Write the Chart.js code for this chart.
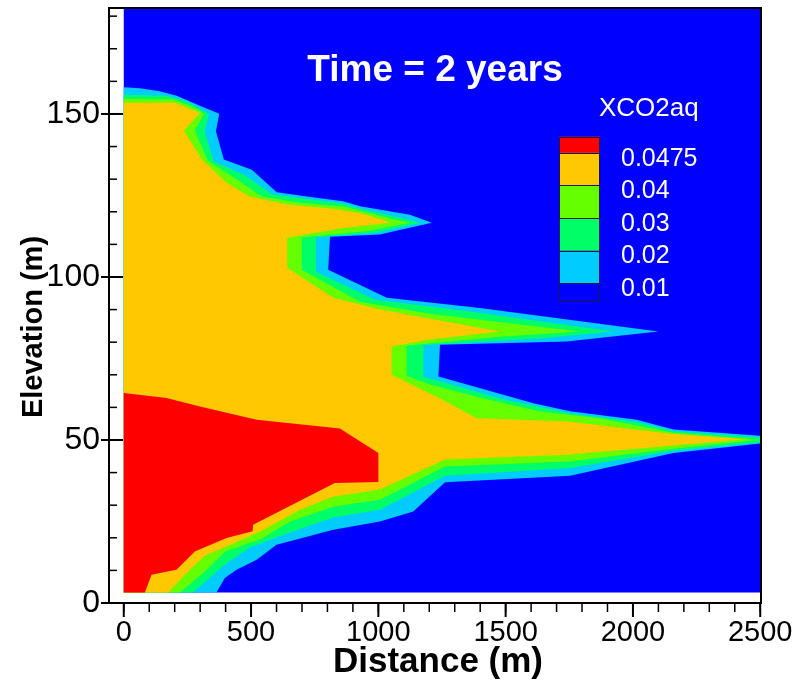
<!DOCTYPE html>
<html>
<head>
<meta charset="utf-8">
<script src="https://cdn.jsdelivr.net/npm/chart.js@4.4.1/dist/chart.umd.min.js"></script>
<style>
  html, body { margin: 0; padding: 0; background: #ffffff; overflow: hidden; }
  canvas { display: block; }
</style>
</head>
<body>
<canvas id="plume" width="799" height="686"></canvas>
<script>
// Model domain (m)
const domainX = [0, 2500];
const domainY = [3.25, 182.5];

// XCO2aq contour levels and fill colours (low to high)
const levels = [0.01, 0.02, 0.03, 0.04, 0.0475];
const levelColors = ['#00ccff', '#00ff66', '#66ff00', '#ffc800', '#ff0000'];
const belowColor = '#0000ff';
const legendLabels = ['0.0475', '0.04', '0.03', '0.02', '0.01'];

// Region outlines where XCO2aq >= level, as [distance (m), elevation (m)]
const contour0100 = [
  [0, 158.2], [63, 157.9], [141, 157.0], [208, 155.6], [299, 152.5], [375, 150.1],
  [362, 144.7], [393, 136.0], [503, 132.9], [601, 126.0], [719, 124.7], [861, 123.2],
  [928, 121.7], [1124, 119.1], [1210, 116.6], [1006, 113.0], [810, 112.3], [803, 102.2],
  [1033, 93.6], [1399, 90.5], [2100, 83.3], [1740, 80.2], [1242, 79.2], [1236, 69.5],
  [1609, 61.3], [1753, 58.8], [2015, 56.2], [2159, 53.2], [2500, 51.3], [2500, 48.9],
  [2159, 46.0], [1753, 39.0], [1262, 37.0], [1137, 28.1], [1006, 25.0], [823, 22.5],
  [600, 17.9], [522, 13.3], [443, 10.2], [397, 7.7], [364, 3.25], [0, 3.25]
];
const contour0200 = [
  [0, 155.9], [168, 155.6], [247, 153.9], [334, 149.9], [318, 144.6], [354, 135.4],
  [476, 131.2], [582, 125.4], [719, 123.9], [861, 122.5], [928, 120.9], [1085, 118.2],
  [1164, 116.6], [987, 113.6], [755, 112.2], [755, 101.6], [987, 93.0], [1360, 89.4],
  [1922, 83.3], [1635, 81.1], [1177, 79.1], [1177, 69.4], [1478, 62.7], [1753, 58.1],
  [2013, 55.5], [2158, 52.7], [2500, 50.8], [2500, 49.3], [2158, 46.7], [1753, 41.4],
  [1262, 39.0], [1006, 28.6], [822, 26.2], [653, 21.6], [495, 17.0], [397, 11.8],
  [272, 3.25], [0, 3.25]
];
const contour0300 = [
  [0, 154.7], [194, 154.5], [292, 151.5], [315, 150.0], [279, 144.9], [330, 135.7],
  [444, 129.9], [543, 124.7], [692, 122.8], [861, 121.6], [928, 120.4], [1065, 117.6],
  [1124, 116.6], [967, 114.2], [699, 112.1], [699, 102.2], [928, 92.4], [1203, 88.7],
  [1792, 83.3], [1478, 81.7], [1111, 78.9], [1111, 69.7], [1203, 67.0], [1399, 63.0],
  [1635, 58.7], [1871, 56.7], [2158, 52.2], [2500, 50.1], [2158, 47.3], [1753, 43.4],
  [1262, 41.9], [1006, 31.7], [822, 29.5], [653, 25.0], [543, 19.8], [397, 15.7],
  [318, 9.6], [220, 3.25], [0, 3.25]
];
const contour0400 = [
  [0, 153.4], [201, 153.4], [299, 150.3], [236, 144.9], [307, 136.0], [405, 128.8],
  [495, 124.7], [641, 122.2], [822, 120.9], [928, 119.6], [1026, 117.3], [1046, 116.6],
  [849, 114.9], [642, 112.0], [642, 102.8], [823, 93.6], [1006, 90.0], [1478, 83.3],
  [1203, 80.8], [1052, 78.7], [1052, 70.0], [1254, 62.3], [1386, 56.7], [1740, 55.7],
  [2158, 51.8], [2440, 50.2], [2158, 48.3], [1740, 45.5], [1262, 44.0], [1006, 34.8],
  [822, 32.6], [692, 28.6], [543, 22.2], [436, 18.5], [318, 14.5], [252, 9.6],
  [174, 3.25], [0, 3.25]
];
const contour0475 = [
  [0, 64.4], [168, 62.9], [299, 60.3], [522, 56.2], [849, 53.5], [1000, 46.0],
  [1000, 37.1], [829, 36.8], [508, 24.0], [506, 22.0], [404, 19.9], [279, 15.8],
  [207, 10.2], [109, 8.7], [83, 3.25], [0, 3.25]
];
const contours = [contour0100, contour0200, contour0300, contour0400, contour0475];

// Axis ticks
const xTicks = [0, 500, 1000, 1500, 2000, 2500];
const yTicks = [0, 50, 100, 150];
const xMinorStep = 100;
const yMinorStep = 10;

const FONT = "'Liberation Sans', Arial, Helvetica, sans-serif";

// Whole-domain background cell (values below the lowest level)
const domainCell = [
  [domainX[0], domainY[0]], [domainX[1], domainY[0]],
  [domainX[1], domainY[1]], [domainX[0], domainY[1]]
];

function polygonDataset(points, color, order) {
  return {
    data: points.map(([x, y]) => ({ x, y })),
    fill: 'shape',
    backgroundColor: color,
    borderColor: 'rgba(0,0,0,0)',
    borderWidth: 0,
    pointRadius: 0,
    pointHoverRadius: 0,
    tension: 0,
    order: order
  };
}

// Higher levels get a lower order so they are painted on top
const datasets = [polygonDataset(domainCell, belowColor, levels.length + 1)];
contours.forEach((pts, i) => datasets.push(polygonDataset(pts, levelColors[i], levels.length - i)));

// Frame, tick marks, plot title, axis titles and the colour legend
const decorations = {
  id: 'decorations',
  afterDraw(chart) {
    const { ctx, chartArea: a, scales: { x, y } } = chart;
    ctx.save();

    // title inside the plot
    ctx.fillStyle = '#ffffff';
    ctx.font = `bold 37px ${FONT}`;
    ctx.textAlign = 'center';
    ctx.textBaseline = 'middle';
    ctx.fillText('Time = 2 years', 435, 71);

    // legend
    const boxL = 559, boxW = 41;
    const edges = [136.5, 152.8, 185.4, 218.0, 250.6, 283.2, 299.6];
    const legendColors = levelColors.slice().reverse().concat([belowColor]);
    legendColors.forEach((c, i) => {
      ctx.fillStyle = c;
      ctx.fillRect(boxL, edges[i], boxW, edges[i + 1] - edges[i]);
    });
    ctx.strokeStyle = '#1a1a40';
    ctx.lineWidth = 1;
    edges.forEach(e => {
      ctx.beginPath();
      ctx.moveTo(boxL, Math.round(e) + 0.5);
      ctx.lineTo(boxL + boxW, Math.round(e) + 0.5);
      ctx.stroke();
    });
    ctx.strokeRect(boxL + 0.5, Math.round(edges[0]) + 0.5, boxW - 1, Math.round(edges[6]) - Math.round(edges[0]));
    ctx.fillStyle = '#ffffff';
    ctx.font = `26px ${FONT}`;
    ctx.textAlign = 'left';
    ctx.fillText('XCO2aq', 599, 109);
    ctx.font = `25px ${FONT}`;
    legendLabels.forEach((t, i) => ctx.fillText(t, 621, edges[i + 1] + 6));

    // frame
    ctx.strokeStyle = '#000000';
    ctx.lineWidth = 2;
    ctx.strokeRect(a.left, a.top, a.right - a.left, a.bottom - a.top);

    // x ticks (outward)
    ctx.lineWidth = 1.5;
    for (let v = xTicks[0]; v <= xTicks[xTicks.length - 1]; v += xMinorStep) {
      const px = x.getPixelForValue(v);
      ctx.beginPath();
      ctx.moveTo(px, a.bottom);
      ctx.lineTo(px, a.bottom + 9);
      ctx.stroke();
    }
    ctx.lineWidth = 2;
    xTicks.forEach(v => {
      const px = x.getPixelForValue(v);
      ctx.beginPath();
      ctx.moveTo(px, a.bottom);
      ctx.lineTo(px, a.bottom + 14);
      ctx.stroke();
    });

    // y ticks (inward)
    ctx.lineWidth = 1.5;
    for (let v = yTicks[0]; v <= y.max; v += yMinorStep) {
      const py = y.getPixelForValue(v);
      ctx.beginPath();
      ctx.moveTo(a.left, py);
      ctx.lineTo(a.left + 8, py);
      ctx.stroke();
    }
    ctx.lineWidth = 2;
    yTicks.forEach(v => {
      const py = y.getPixelForValue(v);
      ctx.beginPath();
      ctx.moveTo(a.left - 8, py);
      ctx.lineTo(a.left + 14, py);
      ctx.stroke();
    });

    // axis titles
    ctx.fillStyle = '#000000';
    ctx.font = `bold 35px ${FONT}`;
    ctx.textAlign = 'center';
    ctx.textBaseline = 'middle';
    ctx.fillText('Distance (m)', 438, 662);
    ctx.translate(34, 327);
    ctx.rotate(-Math.PI / 2);
    ctx.font = `bold 29px ${FONT}`;
    ctx.fillText('Elevation (m)', 0, 0);

    ctx.restore();
  }
};

new Chart(document.getElementById('plume'), {
  type: 'line',
  data: { datasets },
  options: {
    responsive: false,
    animation: false,
    devicePixelRatio: 1,
    events: [],
    layout: { padding: { top: 8, right: 38, left: 0, bottom: 0 } },
    plugins: { legend: { display: false }, tooltip: { enabled: false } },
    scales: {
      x: {
        type: 'linear',
        min: -58,
        max: 2503,
        border: { display: false },
        grid: { display: false, drawTicks: false },
        afterBuildTicks: s => { s.ticks = xTicks.map(v => ({ value: v })); },
        afterFit: s => { s.height = 83; s.paddingLeft = 0; s.paddingRight = 0; },
        ticks: {
          autoSkip: false,
          maxRotation: 0,
          padding: 13,
          color: '#000000',
          font: { family: FONT, size: 29 },
          callback: v => String(v)
        }
      },
      y: {
        type: 'linear',
        min: 0,
        max: 182.5,
        border: { display: false },
        grid: { display: false, drawTicks: false },
        afterBuildTicks: s => { s.ticks = yTicks.map(v => ({ value: v })); },
        afterFit: s => { s.width = 109; s.paddingTop = 0; s.paddingBottom = 0; },
        ticks: {
          autoSkip: false,
          padding: 9,
          color: '#000000',
          font: { family: FONT, size: 32 },
          callback: v => String(v)
        }
      }
    }
  },
  plugins: [decorations]
});
</script>
</body>
</html>
